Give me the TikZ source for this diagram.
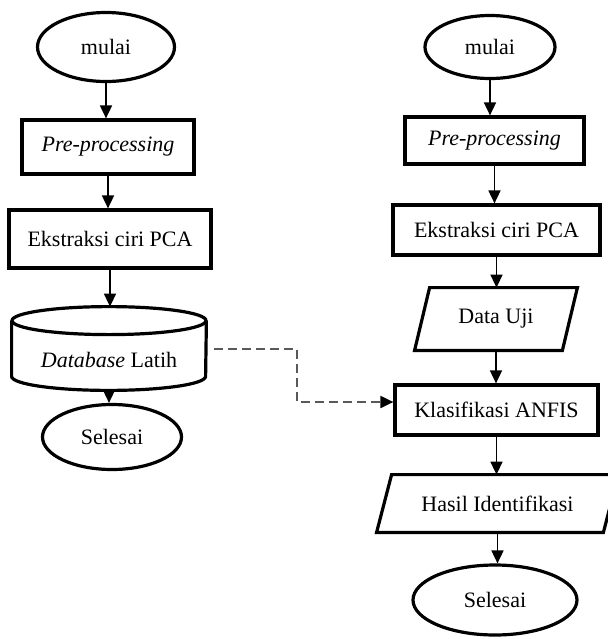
\documentclass[tikz,border=0pt]{standalone}
\usepackage{fontspec}
\setmainfont{Liberation Serif}
\usetikzlibrary{arrows.meta,shapes.geometric,calc}
\begin{document}
\begin{tikzpicture}[x=0.5pt,y=-0.5pt,
  font=\fontsize{11}{13}\selectfont,
  shp/.style={draw, line width=1.6pt, line join=miter},
  box/.style={shp, rectangle, inner sep=0pt},
  oval/.style={shp, ellipse, inner sep=0pt},
  arr/.style={line width=0.8pt, -{Triangle[length=6.5pt,width=6pt]}},
  dsh/.style={line width=1pt, draw=black!65, dash pattern=on 4.5pt off 2.5pt, -{Triangle[length=6.5pt,width=6pt,black]}}]
\useasboundingbox (0,0) rectangle (608,639);
\clip (0,0) rectangle (608,639);

% left column
\node[oval, minimum width=68.5pt, minimum height=34.5pt] (m1) at (106,47) {mulai};
\node[box, minimum width=86pt, minimum height=27pt] (p1) at (108,147) {\textit{Pre-processing}};
\node[box, minimum width=101pt, minimum height=29pt] (e1) at (110,239) {Ekstraksi ciri PCA};
\node[minimum width=97pt, minimum height=41.5pt, inner sep=0pt] (d1) at (109,348.5) {};
\node[inner sep=0pt] (d1t) at (109,360) {\textit{Database} Latih};
\node[oval, minimum width=69.5pt, minimum height=32.5pt] (s1) at (112,437) {Selesai};

\draw[shp] ($(d1.north west)+(0,14)$) -- ($(d1.south west)+(0,-14)$)
  arc[start angle=180,end angle=360,x radius=48.5pt,y radius=7pt]
  -- ($(d1.north east)+(0,14)$);
\draw[shp] ($(d1.north)+(0,14)$) ellipse[x radius=48.5pt, y radius=7pt];

% right column
\node[oval, minimum width=65pt, minimum height=31.5pt] (m2) at (490,47) {mulai};
\node[box, minimum width=89.5pt, minimum height=23.5pt] (p2) at (494.5,140.5) {\textit{Pre-processing}};
\node[box, minimum width=103.5pt, minimum height=25pt] (e2) at (496.5,230) {Ekstraksi ciri PCA};
\node[minimum width=81pt, minimum height=31pt, inner sep=0pt] (du) at (496,319) {Data Uji};
\node[box, minimum width=101.5pt, minimum height=25pt] (kl) at (496.5,410) {Klasifikasi ANFIS};
\node[minimum width=120.5pt, minimum height=28.5pt, inner sep=0pt] (hs) at (497.5,503.5) {Hasil Identifikasi};
\node[oval, minimum width=82pt, minimum height=35pt] (s2) at (495,600) {Selesai};

\draw[shp] ($(du.north west)+(15,0)$) -- (du.north east) -- ($(du.south east)+(-15,0)$) -- (du.south west) -- cycle;
\draw[shp] ($(hs.north west)+(15,0)$) -- (hs.north east) -- ($(hs.south east)+(-15,0)$) -- (hs.south west) -- cycle;

% arrows left
\draw[arr] (m1.south) -- (m1.south |- p1.north);
\draw[arr] (p1.south) -- (p1.south |- e1.north);
\draw[arr] (e1.south) -- (e1.south |- d1.north);
\draw[arr] (d1.south) -- (d1.south |- s1.north);

% arrows right
\draw[arr] (m2.south) -- (m2.south |- p2.north);
\draw[arr] (p2.south) -- (p2.south |- e2.north);
\draw[arr] (e2.south) -- (e2.south |- du.north);
\draw[arr] (du.south) -- (du.south |- kl.north);
\draw[arr] (kl.south) -- (kl.south |- hs.north);
\draw[arr] (hs.south) -- (hs.south |- s2.north);

% dashed link
\coordinate (ds) at ($(d1.east)+(8,0)$);
\coordinate (de) at ($(kl.west)+(0,-8)$);
\draw[dsh] (ds) -- ++(83,0) |- (de);
\end{tikzpicture}
\end{document}
